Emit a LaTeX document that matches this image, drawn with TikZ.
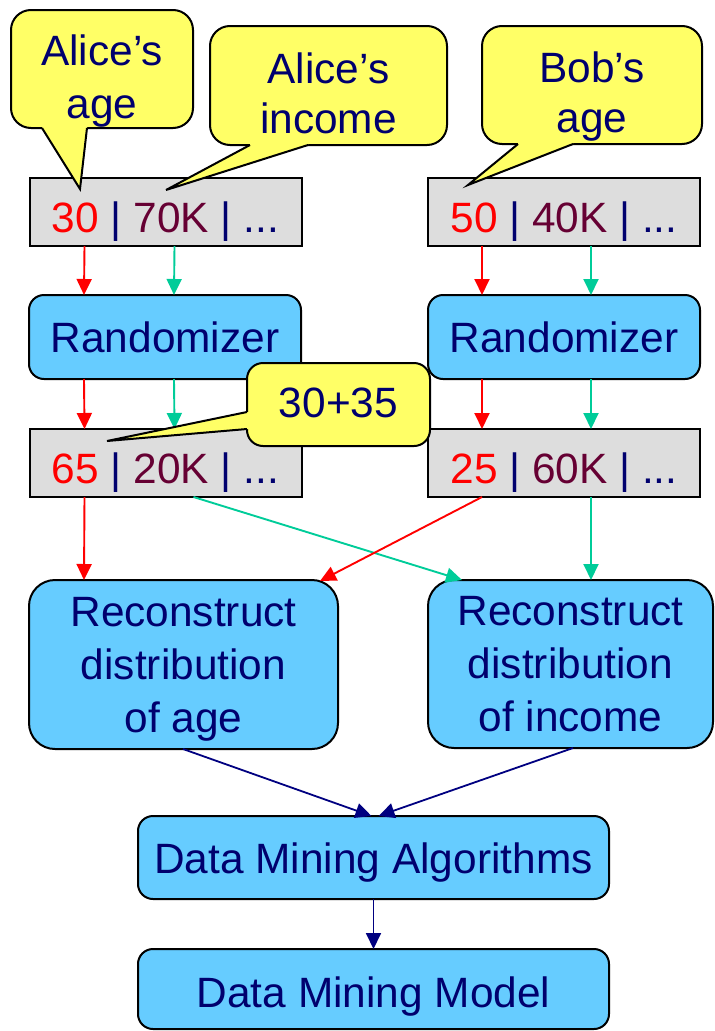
\documentclass[tikz,border=0pt]{standalone}
\usepackage{fontspec}
\setmainfont{Liberation Sans}
\usetikzlibrary{arrows.meta,calc}
\definecolor{navy}{RGB}{0,0,110}
\definecolor{incc}{RGB}{102,0,51}
\definecolor{agec}{RGB}{255,0,0}
\definecolor{grn}{RGB}{0,204,153}
\definecolor{bfill}{RGB}{102,204,255}
\definecolor{yfill}{RGB}{255,255,102}
\definecolor{gfill}{RGB}{221,221,221}
\definecolor{arrblue}{RGB}{0,0,128}
\begin{document}
\begin{tikzpicture}[x=1pt,y=-1pt,
  every node/.style={inner sep=0pt, outer sep=0pt, text=navy, font=\fontsize{42.4pt}{53pt}\selectfont},
  recbox/.style={draw=black, line width=2pt, fill=gfill, minimum width=272pt, minimum height=68pt, text height=40pt, text depth=0pt},
  bluebox/.style={draw=black, line width=2pt, fill=bfill, rounded corners=15pt},
  recon/.style={draw=black, line width=2pt, fill=bfill, rounded corners=26pt, align=center},
  callout/.style={draw=black, line width=2pt, fill=yfill, rounded corners=20pt, align=center},
  ptr/.style={draw=black, line width=2pt, line join=miter},
  redarr/.style={draw=agec, line width=1.9pt, -{Triangle[length=16pt,width=15pt]}},
  grnarr/.style={draw=grn, line width=1.9pt, -{Triangle[length=16pt,width=15pt]}},
  bluarr/.style={draw=arrblue, line width=1.8pt, -{Triangle[length=16pt,width=15pt]}}
]
\useasboundingbox (0,0) rectangle (715,1031);

% record boxes
\node[recbox] (r1) at (165.5,212) {\textcolor{agec}{30} | \textcolor{incc}{70K} | ...};
\node[recbox] (r2) at (564,212) {\textcolor{agec}{50} | \textcolor{incc}{40K} | ...};
\node[bluebox, minimum width=272pt, minimum height=84pt, text height=30pt, text depth=0pt] (rand1) at (165,337) {Randomizer};
\node[bluebox, minimum width=272pt, minimum height=84pt, text height=30pt, text depth=0pt] (rand2) at (564,337) {Randomizer};
\node[recbox] (m1) at (165.5,463) {\textcolor{agec}{65} | \textcolor{incc}{20K} | ...};
\node[recbox] (m2) at (564,463) {\textcolor{agec}{25} | \textcolor{incc}{60K} | ...};
\node[recon, minimum width=309pt, minimum height=169pt] (recA) at (183.5,664.5)
  {Reconstruct\\distribution\\\raisebox{0pt}[\height][0pt]{of age}};
\node[recon, minimum width=285pt, minimum height=168pt] (recI) at (570.5,664)
  {Reconstruct\\distribution\\\raisebox{0pt}[\height][0pt]{of income}};
\node[bluebox, minimum width=471pt, minimum height=83pt, text height=31pt, text depth=0pt] (alg) at (373.5,857.5) {Data Mining Algorithms};
\node[bluebox, minimum width=471pt, minimum height=80pt, text height=36pt, text depth=0pt] (model) at (373.5,989) {Data Mining Model};

% arrows
\draw[redarr] ([xshift=55pt]r1.south west) -- ([xshift=55pt]rand1.north west);
\draw[grnarr] ([xshift=145pt]r1.south west) -- ([xshift=145pt]rand1.north west);
\draw[redarr] ([xshift=54pt]r2.south west) -- ([xshift=54pt]rand2.north west);
\draw[grnarr] ([xshift=163pt]r2.south west) -- ([xshift=163pt]rand2.north west);
\draw[redarr] ([xshift=55pt]rand1.south west) -- ([xshift=55pt]m1.north west);
\draw[grnarr] ([xshift=145pt]rand1.south west) -- ([xshift=145pt]m1.north west);
\draw[redarr] ([xshift=54pt]rand2.south west) -- ([xshift=54pt]m2.north west);
\draw[grnarr] ([xshift=163pt]rand2.south west) -- ([xshift=163pt]m2.north west);
\draw[redarr] ([xshift=55pt]m1.south west) -- ([xshift=55pt]recA.north west);
\draw[grnarr] ([xshift=164pt]m1.south west) -- ([xshift=34pt]recI.north west);
\draw[redarr] ([xshift=54pt]m2.south west) -- ([xshift=-18pt,yshift=-1pt]recA.north east);
\draw[grnarr] ([xshift=163pt]m2.south west) -- ([xshift=163pt]recI.north west);
\draw[bluarr] ([xshift=154pt]recA.south west) -- ([xshift=-2pt]alg.north);
\draw[bluarr] ([xshift=145pt]recI.south west) -- ([xshift=5pt]alg.north);
\draw[bluarr] (alg.south) -- (model.north);

% callouts
\node[callout, minimum width=182pt, minimum height=118pt] (c1) at (102,69)
  {\rule{0pt}{45pt}Alice’s\\\raisebox{0pt}[\height][0pt]{age}};
\coordinate (c1a) at ([xshift=31pt]c1.south west);
\coordinate (c1b) at ([xshift=76pt]c1.south west);
\coordinate (t1) at (80,189);
\fill[yfill] (c1a) -- (t1) -- (c1b) -- ([yshift=4pt]c1b) -- ([yshift=4pt]c1a) -- cycle;
\draw[ptr] (c1a) -- (t1) -- (c1b);

\node[callout, minimum width=237pt, minimum height=119pt, font=\fontsize{42.4pt}{50pt}\selectfont] (c2) at (328.5,85.5)
  {\rule{0pt}{45pt}Alice’s\\\raisebox{0pt}[\height][0pt]{income}};
\coordinate (c2a) at ([xshift=40pt]c2.south west);
\coordinate (c2b) at ([xshift=98pt]c2.south west);
\coordinate (t2) at (166,190);
\fill[yfill] (c2a) -- (t2) -- (c2b) -- ([yshift=4pt]c2b) -- ([yshift=4pt]c2a) -- cycle;
\draw[ptr] (c2a) -- (t2) -- (c2b);

\node[callout, minimum width=220pt, minimum height=118pt, font=\fontsize{42.4pt}{50pt}\selectfont] (c3) at (592,85)
  {\rule{0pt}{44pt}Bob’s\\\raisebox{0pt}[\height][0pt]{age}};
\coordinate (c3a) at ([xshift=36pt]c3.south west);
\coordinate (c3b) at ([xshift=91pt]c3.south west);
\coordinate (t3) at (468,185);
\fill[yfill] (c3a) -- (t3) -- (c3b) -- ([yshift=4pt]c3b) -- ([yshift=4pt]c3a) -- cycle;
\draw[ptr] (c3a) -- (t3) -- (c3b);

\node[callout, rounded corners=16pt, minimum width=183pt, minimum height=83pt, text height=25pt, text depth=0pt] (c4) at (338.5,404.5) {30+35};
\coordinate (c4a) at ([yshift=34pt]c4.south west);
\coordinate (c4b) at ([yshift=17pt]c4.south west);
\coordinate (t4) at (107,441);
\fill[yfill] (c4a) -- (t4) -- (c4b) -- ([xshift=4pt]c4b) -- ([xshift=4pt]c4a) -- cycle;
\draw[ptr] (c4a) -- (t4) -- (c4b);
\end{tikzpicture}
\end{document}
